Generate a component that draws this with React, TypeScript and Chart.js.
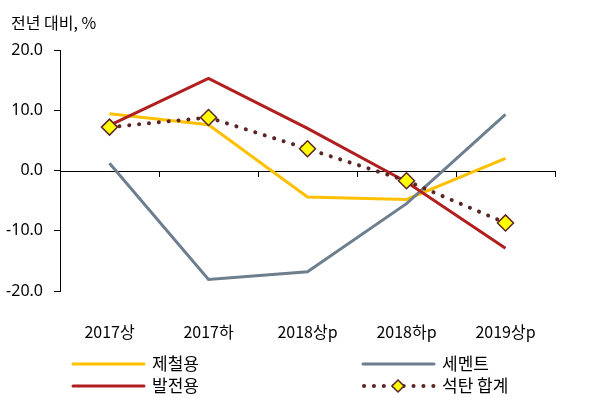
import React, { useEffect, useRef } from "react";
import { Chart, registerables } from "chart.js";
Chart.register(...registerables);

const categories = ["2017상", "2017하", "2018상p", "2018하p", "2019상p"];
const steel = [9.4, 7.6, -4.4, -4.8, 2.0];
const power = [7.5, 15.3, 7.0, -1.9, -12.9];
const cement = [1.2, -18.1, -16.8, -5.5, 9.3];
const total = [7.2, 8.8, 3.6, -1.7, -8.7];
const yTicks = [-20, -10, 0, 10, 20];
const titleText = "전년 대비, %";
const legendLabels = ["제철용", "세멘트", "발전용", "석탄 합계"];

const C_STEEL = "#FFC000";
const C_POWER = "#B01E1E";
const C_CEMENT = "#6D7F8E";
const C_TOTAL = "#5B2525";
const KFONT = "'Noto Sans CJK KR', 'Noto Sans', sans-serif";

export default function App() {
  const ref = useRef<HTMLCanvasElement | null>(null);
  useEffect(() => {
    document.body.style.margin = "0";
    const canvas = ref.current!;
    const zeroPlugin = {
      id: "zeroLine",
      beforeDatasetsDraw(chart: any) {
        const { ctx, chartArea, scales } = chart;
        const y0 = scales.y.getPixelForValue(0);
        ctx.save();
        ctx.strokeStyle = "#000";
        ctx.lineWidth = 1;
        ctx.beginPath();
        ctx.moveTo(chartArea.left, Math.round(y0) + 0.5);
        ctx.lineTo(chartArea.right, Math.round(y0) + 0.5);
        const n = categories.length;
        const w = (chartArea.right - chartArea.left) / n;
        for (let i = 1; i <= n; i++) {
          const x = Math.round(chartArea.left + w * i) + 0.5;
          ctx.moveTo(x, Math.round(y0));
          ctx.lineTo(x, Math.round(y0) + 6);
        }
        ctx.stroke();
        ctx.restore();
      },
    };
    const decoPlugin = {
      id: "deco",
      afterDraw(chart: any) {
        const { ctx } = chart;
        ctx.save();
        ctx.fillStyle = "#000";
        ctx.font = `16px ${KFONT}`;
        ctx.textBaseline = "middle";
        ctx.textAlign = "left";
        ctx.fillText(titleText, 11, 23);
        // legend
        const items = [
          { x: 73, y: 364, color: C_STEEL, label: legendLabels[0], dotted: false },
          { x: 363, y: 364, color: C_CEMENT, label: legendLabels[1], dotted: false },
          { x: 73, y: 386, color: C_POWER, label: legendLabels[2], dotted: false },
          { x: 363, y: 386, color: C_TOTAL, label: legendLabels[3], dotted: true },
        ];
        for (const it of items) {
          ctx.lineCap = "round";
          if (!it.dotted) {
            ctx.strokeStyle = it.color;
            ctx.lineWidth = 3;
            ctx.beginPath();
            ctx.moveTo(it.x, it.y);
            ctx.lineTo(it.x + 71, it.y);
            ctx.stroke();
          } else {
            ctx.strokeStyle = it.color;
            ctx.lineWidth = 4;
            ctx.setLineDash([0.1, 9.8]);
            ctx.beginPath();
            ctx.moveTo(it.x + 1, it.y);
            ctx.lineTo(it.x + 71, it.y);
            ctx.stroke();
            ctx.setLineDash([]);
            const cx = it.x + 35;
            const r = 6;
            ctx.fillStyle = "#FFFF00";
            ctx.lineWidth = 1.5;
            ctx.beginPath();
            ctx.moveTo(cx, it.y - r);
            ctx.lineTo(cx + r, it.y);
            ctx.lineTo(cx, it.y + r);
            ctx.lineTo(cx - r, it.y);
            ctx.closePath();
            ctx.fill();
            ctx.stroke();
          }
          ctx.fillStyle = "#000";
          ctx.font = `17px ${KFONT}`;
          ctx.fillText(it.label, it.x + 79, it.y);
        }
        ctx.restore();
      },
    };
    const chart = new Chart(canvas, {
      type: "line",
      data: {
        labels: categories,
        datasets: [
          {
            label: legendLabels[3],
            data: total,
            borderColor: C_TOTAL,
            borderWidth: 4,
            borderDash: [0.1, 9.8],
            borderCapStyle: "round",
            pointStyle: "rectRot",
            pointRadius: 8,
            pointBackgroundColor: "#FFFF00",
            pointBorderColor: C_TOTAL,
            pointBorderWidth: 1.5,
            tension: 0,
          },
          {
            label: legendLabels[2],
            data: power,
            borderColor: C_POWER,
            borderWidth: 3,
            pointRadius: 0,
            tension: 0,
          },
          {
            label: legendLabels[1],
            data: cement,
            borderColor: C_CEMENT,
            borderWidth: 3,
            pointRadius: 0,
            tension: 0,
          },
          {
            label: legendLabels[0],
            data: steel,
            borderColor: C_STEEL,
            borderWidth: 3,
            pointRadius: 0,
            tension: 0,
          },
        ],
      },
      options: {
        animation: false,
        responsive: false,
        layout: { padding: { top: 50, right: 45, left: 0, bottom: 0 } },
        plugins: { legend: { display: false }, tooltip: { enabled: false } },
        scales: {
          x: {
            offset: true,
            grid: { display: false },
            border: { display: false },
            ticks: {
              color: "#000",
              padding: 23,
              font: { family: KFONT, size: 16 },
              maxRotation: 0,
            },
            afterFit(scale: any) {
              scale.height = 107;
            },
          },
          y: {
            min: -20,
            max: 20,
            afterBuildTicks(scale: any) {
              scale.ticks = yTicks.map((v) => ({ value: v }));
            },
            grid: { drawOnChartArea: false, drawTicks: true, tickLength: 6, color: "#000" },
            border: { display: true, color: "#000", width: 1 },
            ticks: {
              color: "#000",
              padding: 11,
              font: { family: "'Noto Sans', sans-serif", size: 16 },
              callback: (v: any) => Number(v).toFixed(1),
            },
            afterFit(scale: any) {
              scale.width = 60;
            },
          },
        },
      },
      plugins: [zeroPlugin, decoPlugin],
    } as any);
    return () => chart.destroy();
  }, []);
  return (
    <div style={{ width: 600, height: 398, position: "relative" }}>
      <canvas ref={ref} width={600} height={398} style={{ display: "block" }} />
    </div>
  );
}
